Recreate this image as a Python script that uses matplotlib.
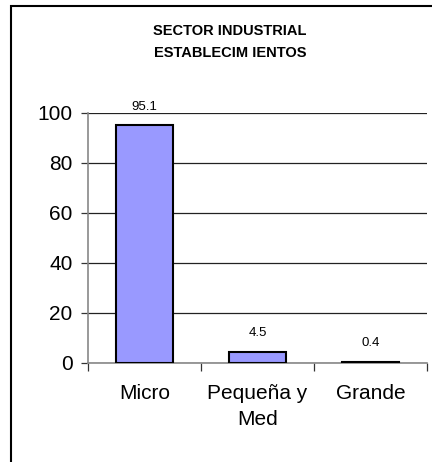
import matplotlib
matplotlib.use("Agg")
import matplotlib.pyplot as plt
from matplotlib.patches import Rectangle

# datos
categorias = ["Micro", "Pequeña y\nMed", "Grande"]
porcentajes = [95.1, 4.5, 0.4]
etiquetas = ["95.1", "4.5", "0.4"]
titulo = "SECTOR INDUSTRIAL\nESTABLECIM IENTOS"

plt.rcParams['font.family'] = ['Liberation Sans', 'DejaVu Sans']

fig = plt.figure(figsize=(4.32, 4.62), dpi=100)
fig.patch.set_facecolor('white')

# marco exterior del grafico (solo borde superior e izquierdo visibles)
fig.patches.append(Rectangle((11/432, -0.1), 1.2, 1.1 - 6/462,
                             transform=fig.transFigure, fill=False,
                             edgecolor='black', linewidth=1.5))

ax = fig.add_axes([88/432, 1 - 363/462, (427 - 88)/432, 250/462])
x = range(len(categorias))
ax.bar(x, porcentajes, width=0.51, color='#9999FF', edgecolor='black',
       linewidth=1.5, zorder=3)

for i, v in enumerate(porcentajes):
    ax.annotate(etiquetas[i], (i, v), xytext=(0, 9), textcoords='offset points',
                ha='center', va='bottom', fontsize=9.5)

ax.set_xlim(-0.5, 2.5)
ax.set_ylim(0, 100)
ax.set_yticks([0, 20, 40, 60, 80, 100])
ax.yaxis.grid(True, color='#222222', linewidth=0.9, zorder=0)
ax.tick_params(axis='y', labelsize=15, length=5, width=0.9, color='#333333', pad=6)

ax.set_xticks([0, 1, 2])
ax.set_xticklabels(categorias, fontsize=15, linespacing=1.45)
ax.set_xticks([-0.5, 0.5, 1.5, 2.5], minor=True)
ax.tick_params(axis='x', which='major', length=0, pad=15)
ax.tick_params(axis='x', which='minor', length=6, width=0.9, color='#333333')

for s in ['top', 'right']:
    ax.spines[s].set_visible(False)
ax.spines['left'].set_color('#888888')
ax.spines['bottom'].set_color('#888888')
ax.spines['left'].set_linewidth(1.2)
ax.spines['bottom'].set_linewidth(1.2)

fig.text(230/432, 1 - 42/462, titulo, ha='center', va='center',
         fontsize=10.5, fontweight='bold', linespacing=1.75)

fig.savefig('out.png', dpi=100)
